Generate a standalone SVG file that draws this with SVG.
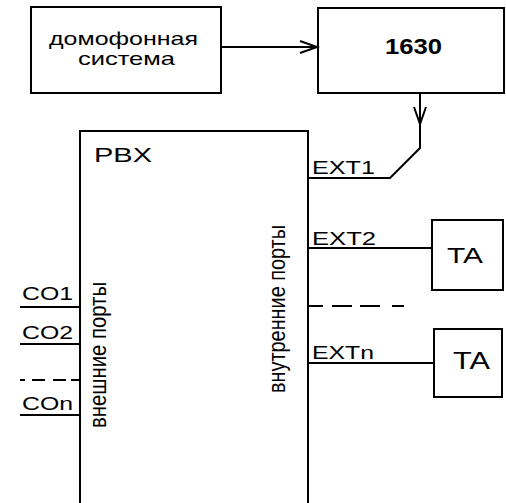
<svg xmlns="http://www.w3.org/2000/svg" width="506" height="503" viewBox="0 0 506 503">
<style>
.box{fill:none;stroke:#000;stroke-width:2}
.ln{fill:none;stroke:#000;stroke-width:2}
.t{font-family:"Liberation Sans",Arial,sans-serif;fill:#000}
</style>
<defs>
<marker id="arr" markerUnits="userSpaceOnUse" markerWidth="24" markerHeight="20" refX="18" refY="8" orient="auto" overflow="visible">
<path d="M1 2 L18 8 L1 14" fill="none" stroke="#000" stroke-width="2"/>
</marker>
</defs>
<rect x="0" y="0" width="506" height="503" fill="#fff"/>
<g id="intercom">
<rect class="box" x="31" y="7" width="190" height="86"/>
<text class="t" x="49" y="45" font-size="19" textLength="149" lengthAdjust="spacingAndGlyphs">домофонная</text>
<text class="t" x="78" y="65" font-size="19" textLength="97" lengthAdjust="spacingAndGlyphs">система</text>
</g>
<g id="n1630">
<rect class="box" x="318" y="8" width="186" height="85"/>
<text class="t" x="385" y="54" font-size="22" font-weight="bold" textLength="57" lengthAdjust="spacingAndGlyphs">1630</text>
</g>
<g id="pbx">
<rect class="box" x="80" y="131" width="228" height="420"/>
<text class="t" x="94" y="162" font-size="21" textLength="58" lengthAdjust="spacingAndGlyphs">PBX</text>
<text class="t" font-size="23" transform="translate(106 355) rotate(-90)" text-anchor="middle" textLength="146" lengthAdjust="spacingAndGlyphs">внешние порты</text>
<text class="t" font-size="23" transform="translate(285 309) rotate(-90)" text-anchor="middle" textLength="168" lengthAdjust="spacingAndGlyphs">внутренние порты</text>
</g>
<g id="ta1">
<rect class="box" x="432" y="220" width="71" height="70"/>
<text class="t" x="447" y="263" font-size="22" textLength="36" lengthAdjust="spacingAndGlyphs">TA</text>
</g>
<g id="ta2">
<rect class="box" x="434" y="329" width="68" height="68"/>
<text class="t" x="453" y="369" font-size="23" textLength="37" lengthAdjust="spacingAndGlyphs">TA</text>
</g>
<g id="connectors">
<path class="ln" d="M221 47 H317" marker-end="url(#arr)"/>
<path class="ln" d="M420 93 V124" marker-end="url(#arr)"/>
<path class="ln" d="M420 124 V148 L390 178 H308"/>
<path class="ln" d="M308 248 H432"/>
<path class="ln" d="M308 363 H434"/>
<path class="ln" d="M308 306 H323 M332 306 H352 M360 306 H380 M392 306 H404"/>
<path class="ln" d="M20 307 H80"/>
<path class="ln" d="M20 344 H80"/>
<path class="ln" d="M20 380 H25 M32 380 H45 M53 380 H66 M71 380 H80"/>
<path class="ln" d="M20 415 H80"/>
</g>
<g id="labels">
<text class="t" x="312" y="174" font-size="19" textLength="63" lengthAdjust="spacingAndGlyphs">EXT1</text>
<text class="t" x="312" y="245" font-size="19" textLength="64" lengthAdjust="spacingAndGlyphs">EXT2</text>
<text class="t" x="312" y="359" font-size="19" textLength="62" lengthAdjust="spacingAndGlyphs">EXTn</text>
<text class="t" x="22" y="300" font-size="18" textLength="51" lengthAdjust="spacingAndGlyphs">CO1</text>
<text class="t" x="22" y="339" font-size="18" textLength="51" lengthAdjust="spacingAndGlyphs">CO2</text>
<text class="t" x="22" y="410" font-size="18" textLength="51" lengthAdjust="spacingAndGlyphs">COn</text>
</g>
</svg>
